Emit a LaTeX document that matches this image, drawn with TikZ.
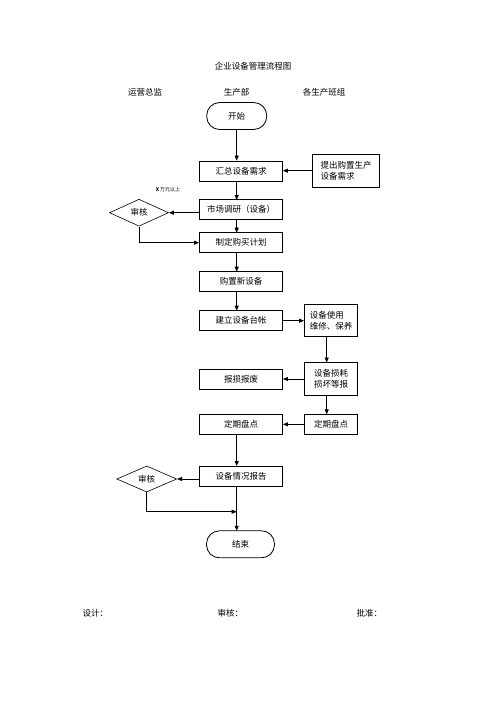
\documentclass[tikz,border=0pt]{standalone}
\usepackage{fontspec}
\setmainfont{Noto Sans CJK SC}
\usetikzlibrary{shapes.geometric,arrows.meta,calc}
\begin{document}
\begin{tikzpicture}[x=1pt,y=-1pt,
  every node/.style={font=\fontsize{8.5}{11}\selectfont},
  box/.style={draw,line width=0.8pt,minimum width=83pt,minimum height=20pt,inner sep=0pt},
  sbox/.style={draw,line width=0.8pt,minimum width=53pt,minimum height=32pt,inner sep=0pt,align=left},
  term/.style={draw,line width=0.8pt,rounded corners=13pt,minimum height=27pt,inner sep=0pt},
  dia/.style={draw,line width=0.6pt,diamond,aspect=2.2,minimum width=59pt,minimum height=27pt,inner sep=0pt},
  arr/.style={line width=0.8pt,-{Triangle[length=5pt,width=4pt]}},
  ln/.style={line width=0.6pt}]
\useasboundingbox (0,0) rectangle (496,702);
% titles
\node (title) at (253,66) {企业设备管理流程图};
\node (h1) at (145,92.5) {运营总监};
\node (h2) at (236.7,92.5) {生产部};
\node (h3) at (324,92.5) {各生产班组};
% nodes
\node[term,minimum width=60pt] (start) at (236.7,116) {开始};
\node[box] (hz) at (241,171) {汇总设备需求};
\node[draw,line width=0.8pt,minimum width=67pt,minimum height=33pt,inner sep=0pt,align=left] (tc) at (346,170.7) {提出购置生产\\设备需求};
\node[box] (sc) at (241,209.7) {市场调研（设备）};
\node[dia] (sh1) at (139,212.7) {审核};
\node (lim) at (168,189.3) {\fontsize{5}{6}\selectfont\textbf{X} 万元以上};
\node[box] (zd) at (241,242.7) {制定购买计划};
\node[box] (gz) at (241,281.7) {购置新设备};
\node[box] (jl) at (241,320.7) {建立设备台帐};
\node[sbox] (sy) at (331,320.5) {设备使用\\维修、保养};
\node[sbox,minimum height=33pt] (sh) at (331,379) {设备损耗\\损坏等报};
\node[box] (bs) at (241,379) {报损报废};
\node[draw,line width=0.8pt,minimum width=53pt,minimum height=20pt,inner sep=0pt] (pdr) at (331,424.3) {定期盘点};
\node[box] (pdl) at (241,424.3) {定期盘点};
\node[box] (bg) at (241,476) {设备情况报告};
\node[dia,minimum width=60pt,minimum height=26pt] (sh2) at (146.7,479) {审核};
\node[term,minimum width=68pt] (end) at (240.5,544.3) {结束};
% footer
\node[anchor=west] (f1) at (79,613.3) {设计：};
\node[anchor=west] (f2) at (214,613.3) {审核：};
\node[anchor=west] (f3) at (353,613.3) {批准：};
% connectors
\draw[arr] (start.south) -- (start.south |- hz.north);
\draw[arr] (tc.west) -- (tc.west -| hz.east);
\draw[arr] (236.7,180.7) -- (236.7,200);
\draw[arr] (sh1.east -| sc.west) -- (sh1.east);
\coordinate (c1) at (sh1.south |- zd.west);
\draw[arr,ln] (sh1.south) -- (c1) -- (zd.west);
\draw[arr] (236.7,219.3) -- (236.7,232.7);
\draw[arr] (236.7,252.7) -- (236.7,271.7);
\draw[arr] (236.7,291.7) -- (236.7,310.7);
\draw[arr] (jl.east) -- (jl.east -| sy.west);
\draw[arr] (326.7,336.5) -- (326.7,362.5);
\draw[arr] (sh.west) -- (bs.east);
\draw[arr] (326.7,395.5) -- (326.7,414.3);
\draw[arr] (pdr.west) -- (pdl.east);
\draw[arr] (236.7,434.3) -- (236.7,466);
\draw[arr] (sh2.east -| bg.west) -- (sh2.east);
\draw[arr] (236.7,486) -- (236.7,530.8);
\coordinate (c2) at (146.7,511.7);
\coordinate (c3) at (236.7,511.7);
\draw[arr,ln] (sh2.south) -- (c2) -- (c3);
\end{tikzpicture}
\end{document}
